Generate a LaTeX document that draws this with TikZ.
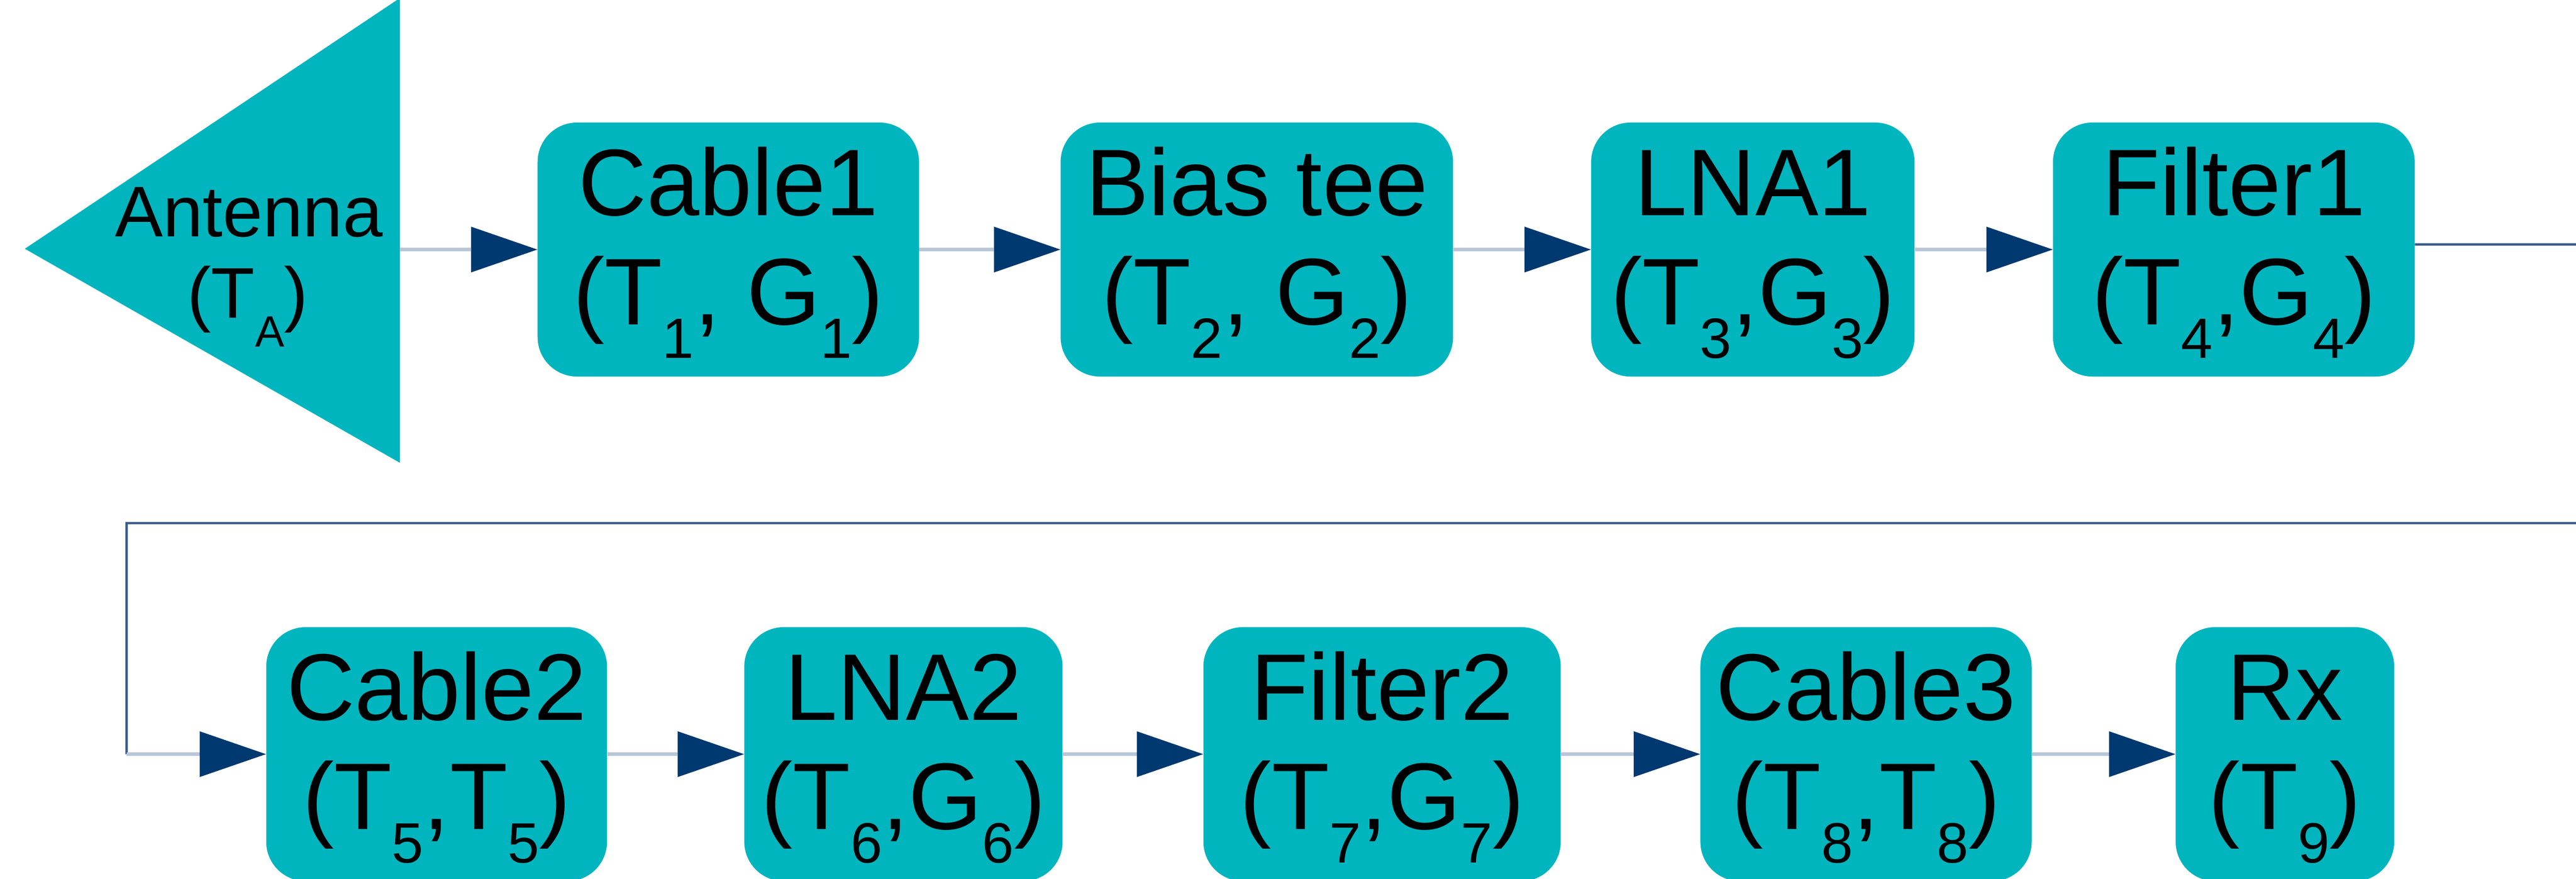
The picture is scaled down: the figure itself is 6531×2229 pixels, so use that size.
\documentclass[tikz,border=0pt]{standalone}
\usepackage{fontspec}
\setmainfont{Liberation Sans}
\usetikzlibrary{arrows.meta,calc}
\definecolor{boxc}{RGB}{0,181,190}
\definecolor{navyc}{RGB}{0,56,112}
\definecolor{lightln}{RGB}{184,199,216}
\definecolor{darkln}{RGB}{58,92,138}
\newcommand\dn[1]{\raisebox{-0.354em}{\fontsize{41pt}{41pt}\selectfont #1}}
\newcommand\dnA[1]{\raisebox{-0.4em}{\fontsize{31.6pt}{32pt}\selectfont #1}}
\newcommand\mkbox[6]{%
  \node[blk, minimum width={(#3-#2)*0.01cm}] (#1) at ({(#2+#3)/2},#4) {};
  \node[lbl] (#1a) at ({(#2+#3)/2},#4-86) {#5};
  \node[lbl] (#1b) at ({(#2+#3)/2},#4+190) {#6};
}
\begin{document}
\begin{tikzpicture}[x=0.01cm,y=-0.01cm,
  blk/.style={fill=boxc, rounded corners=1cm, minimum height=6.44cm, inner sep=0pt, draw=none},
  lbl/.style={anchor=base, inner sep=0pt, font=\fontsize{68.3pt}{80pt}\selectfont},
  albl/.style={anchor=base, inner sep=0pt, font=\fontsize{51.8pt}{60pt}\selectfont},
  sarrow/.style={draw=lightln, line width=0.1cm, -{Triangle[length=1.68cm,width=1.16cm,color=navyc,line width=0pt]}},
  longln/.style={draw=darkln, line width=0.06cm}]
\useasboundingbox (0,0) rectangle (6531,2229);
\clip (0,0) rectangle (6531,2229);
\fill[white] (0,0) rectangle (6531,2229);

% antenna
\fill[boxc] (63,631) -- (1014,-5) -- (1014,1174) -- cycle;
\coordinate (ant) at (1014,633);
\node[albl] (antA) at (631,600) {Antenna};
\node[albl] (antB) at (628,807) {(T\dnA{A})};

% top row
\mkbox{cA}{1363}{2330}{633}{Cable1}{(T\dn{1}, G\dn{1})}
\mkbox{bt}{2689}{3684}{633}{Bias tee}{(T\dn{2}, G\dn{2})}
\mkbox{lA}{4034}{4854}{633}{LNA1}{(T\dn{3},G\dn{3})}
\mkbox{fA}{5205}{6122}{633}{Filter1}{(T\dn{4},G\dn{4})}

% bottom row
\mkbox{cB}{675}{1539}{1913}{Cable2}{(T\dn{5},T\dn{5})}
\mkbox{lB}{1887}{2694}{1913}{LNA2}{(T\dn{6},G\dn{6})}
\mkbox{fB}{3051}{3957}{1913}{Filter2}{(T\dn{7},G\dn{7})}
\mkbox{cC}{4311}{5151}{1913}{Cable3}{(T\dn{8},T\dn{8})}
\mkbox{rx}{5516}{6070}{1913}{Rx}{(T\dn{9})}

% connectors top row
\draw[sarrow] (ant) -- (cA.west);
\draw[sarrow] (cA) -- (bt);
\draw[sarrow] (bt) -- (lA);
\draw[sarrow] (lA) -- (fA);

% long return connector
\coordinate (fe) at ([yshift=0.13cm]fA.east);
\coordinate (r1) at (6700,620);
\coordinate (r2) at (6700,1327);
\coordinate (l1) at (321,1327);
\coordinate (bend) at (321,1913);
\draw[longln, line join=miter] (fe) -- (r1) -- (r2) -- (l1) -- (bend);

% bottom row connectors
\draw[sarrow] (bend) -- (cB.west);
\draw[sarrow] (cB) -- (lB);
\draw[sarrow] (lB) -- (fB);
\draw[sarrow] (fB) -- (cC);
\draw[sarrow] (cC) -- (rx);
\end{tikzpicture}
\end{document}
